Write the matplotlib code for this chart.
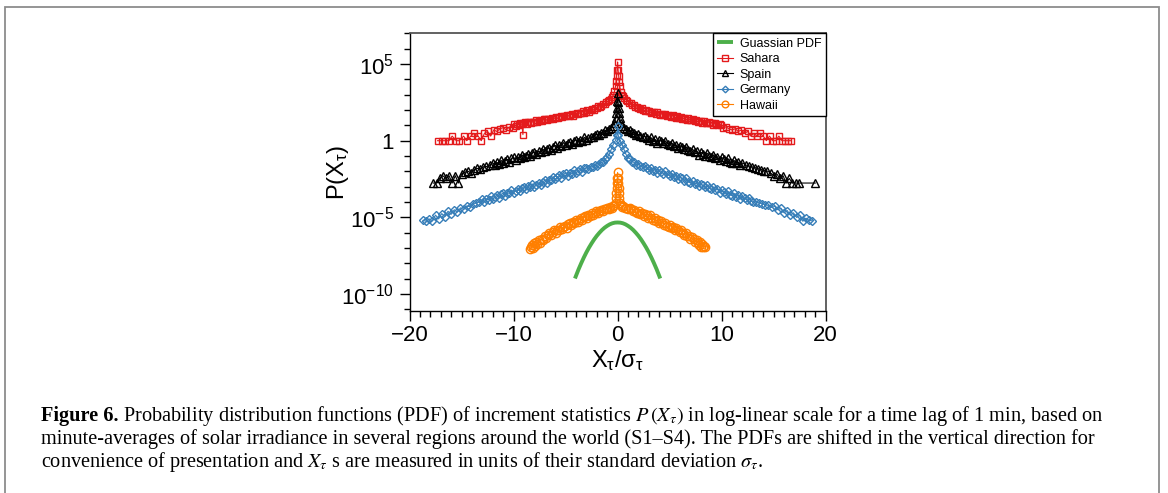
import matplotlib
matplotlib.use("Agg")
import matplotlib.pyplot as plt
from matplotlib.patches import Rectangle
from matplotlib.ticker import FixedLocator, MultipleLocator, NullFormatter
import numpy as np

plt.rcParams['font.family'] = ['Liberation Sans', 'DejaVu Sans']

# (x / sigma, log10 P), PDFs already shifted vertically
sahara = [
    (-17.3, 0.0), (-16.9, 0.0), (-16.6, 0.0), (-16.2, 0.0), (-15.9, 0.30), (-15.5, 0.0),
    (-15.2, 0.0), (-14.8, 0.30), (-14.5, 0.0), (-14.1, 0.30), (-13.8, 0.48), (-13.4, 0.30),
    (-13.1, 0.0), (-12.8, 0.48), (-12.5, 0.60), (-12.2, 0.30), (-11.9, 0.70), (-11.6, 0.60),
    (-11.3, 0.78), (-11.0, 0.85), (-10.7, 0.70), (-10.4, 0.90), (-10.1, 0.85),
    (-9.95, 1.08), (-9.8, 0.98), (-9.65, 1.08), (-9.5, 1.04), (-9.35, 1.15), (-9.2, 1.06),
    (-9.1, 0.40), (-9.05, 1.13), (-8.9, 1.19), (-8.75, 1.10), (-8.6, 1.22), (-8.45, 1.25),
    (-8.3, 1.16), (-8.15, 1.25), (-8.0, 1.22), (-7.85, 1.34), (-7.7, 1.24), (-7.55, 1.30),
    (-7.4, 1.36), (-7.25, 1.27), (-7.1, 1.39), (-6.95, 1.42), (-6.8, 1.33), (-6.65, 1.43),
    (-6.5, 1.40), (-6.35, 1.51), (-6.2, 1.41), (-6.05, 1.48), (-5.9, 1.54), (-5.75, 1.45),
    (-5.6, 1.57), (-5.45, 1.61), (-5.3, 1.52), (-5.15, 1.62), (-5.0, 1.58), (-4.85, 1.70),
    (-4.7, 1.60), (-4.55, 1.67), (-4.4, 1.73), (-4.25, 1.64), (-4.1, 1.76), (-3.95, 1.80),
    (-3.8, 1.72), (-3.65, 1.82), (-3.5, 1.80), (-3.35, 1.92), (-3.2, 1.83), (-3.05, 1.90),
    (-2.9, 1.97), (-2.75, 1.89), (-2.6, 2.02), (-2.45, 2.07), (-2.3, 1.99), (-2.15, 2.11),
    (-2.0, 2.10), (-1.85, 2.24), (-1.7, 2.19), (-1.55, 2.28), (-1.4, 2.37), (-1.25, 2.37),
    (-1.1, 2.50), (-0.95, 2.56), (-0.8, 2.65), (-0.65, 2.75), (-0.5, 2.88), (-0.4, 2.98),
    (-0.3, 3.21), (-0.2, 3.54), (-0.15, 3.86), (-0.1, 4.19), (-0.05, 4.63), (0.0, 5.13),
    (0.05, 4.60), (0.1, 4.20), (0.15, 3.85), (0.2, 3.55), (0.3, 3.20), (0.4, 2.98),
    (0.5, 2.90), (0.65, 2.78), (0.8, 2.68), (0.95, 2.58), (1.1, 2.44), (1.25, 2.47),
    (1.4, 2.32), (1.55, 2.33), (1.7, 2.17), (1.85, 2.21), (2.0, 2.14), (2.15, 2.04),
    (2.3, 2.12), (2.45, 1.99), (2.6, 1.95), (2.75, 2.02), (2.9, 1.91), (3.05, 1.95),
    (3.2, 1.82), (3.35, 1.88), (3.5, 1.84), (3.65, 1.75), (3.8, 1.85), (3.95, 1.72),
    (4.1, 1.69), (4.25, 1.77), (4.4, 1.67), (4.55, 1.72), (4.7, 1.59), (4.85, 1.66),
    (5.0, 1.62), (5.15, 1.55), (5.3, 1.65), (5.45, 1.53), (5.6, 1.50), (5.75, 1.58),
    (5.9, 1.48), (6.05, 1.53), (6.2, 1.40), (6.35, 1.47), (6.5, 1.44), (6.65, 1.36),
    (6.8, 1.46), (6.95, 1.34), (7.1, 1.32), (7.25, 1.40), (7.4, 1.30), (7.55, 1.35),
    (7.7, 1.23), (7.85, 1.30), (8.0, 1.26), (8.15, 1.18), (8.3, 1.29), (8.45, 1.17),
    (8.6, 1.15), (8.75, 1.23), (8.9, 1.13), (9.05, 1.18), (9.2, 1.05), (9.35, 1.13),
    (9.5, 1.09), (9.65, 1.01), (9.8, 1.11), (9.95, 1.00),
    (10.1, 0.85), (10.4, 0.90), (10.7, 0.78), (11.0, 0.70), (11.3, 0.78), (11.6, 0.60),
    (11.9, 0.70), (12.2, 0.48), (12.5, 0.60), (12.8, 0.30), (13.1, 0.48), (13.4, 0.30),
    (13.7, 0.48), (14.0, 0.30), (14.3, 0.0), (14.6, 0.30), (14.9, 0.0), (15.2, 0.0),
    (15.5, 0.30), (15.8, 0.0), (16.1, 0.0), (16.4, 0.0), (16.7, 0.0),
]

spain = [
    (-17.7, -2.76), (-17.4, -2.76), (-17.1, -2.46), (-16.8, -2.28), (-16.5, -2.46), (-16.2, -2.28),
    (-15.9, -2.76), (-15.6, -2.28), (-15.3, -2.76), (-15.0, -2.16), (-14.7, -2.06), (-14.4, -1.98),
    (-14.1, -2.10), (-13.8, -1.90), (-13.5, -1.80), (-13.2, -1.85), (-12.9, -1.70), (-12.6, -1.68),
    (-12.3, -1.60),
    (-12.0, -1.43), (-11.8, -1.60), (-11.6, -1.42), (-11.4, -1.49), (-11.2, -1.28), (-11.0, -1.45),
    (-10.8, -1.32), (-10.6, -1.21), (-10.4, -1.37), (-10.2, -1.16), (-10.0, -1.07), (-9.8, -1.25),
    (-9.6, -1.06), (-9.4, -1.13), (-9.2, -0.91), (-9.0, -1.09), (-8.8, -0.97), (-8.6, -0.86),
    (-8.4, -1.02), (-8.2, -0.81), (-8.0, -0.73), (-7.8, -0.89), (-7.6, -0.70), (-7.4, -0.75),
    (-7.2, -0.53), (-7.0, -0.69), (-6.8, -0.56), (-6.6, -0.45), (-6.4, -0.60), (-6.2, -0.39),
    (-6.0, -0.30), (-5.8, -0.47), (-5.6, -0.28), (-5.4, -0.34), (-5.2, -0.12), (-5.0, -0.29),
    (-4.8, -0.17), (-4.6, -0.06), (-4.4, -0.22), (-4.2, -0.01), (-4.0, 0.07), (-3.8, -0.11),
    (-3.6, 0.07), (-3.4, -0.01), (-3.2, 0.22), (-3.0, 0.05), (-2.8, 0.17), (-2.6, 0.25),
    (-2.4, 0.21), (-2.2, 0.34), (-2.0, 0.42), (-1.8, 0.38), (-1.6, 0.52), (-1.4, 0.53),
    (-1.2, 0.67), (-1.0, 0.64), (-0.8, 0.75), (-0.65, 0.85), (-0.45, 0.98), (-0.3, 1.15),
    (-0.2, 1.48), (-0.15, 1.80), (-0.1, 2.13), (-0.05, 2.56), (0.0, 3.10),
    (0.05, 2.50), (0.1, 2.10), (0.15, 1.78), (0.2, 1.45), (0.3, 1.15), (0.45, 0.97),
    (0.65, 0.84), (0.8, 0.76), (1.0, 0.64), (1.2, 0.67), (1.4, 0.54), (1.6, 0.53),
    (1.8, 0.37), (2.0, 0.41), (2.2, 0.33), (2.4, 0.24), (2.6, 0.28), (2.8, 0.15),
    (3.0, 0.06), (3.2, 0.21), (3.4, 0.00), (3.6, 0.09), (3.8, -0.12), (4.0, 0.05),
    (4.2, -0.04), (4.4, -0.17), (4.6, -0.01), (4.8, -0.21), (5.0, -0.28), (5.2, -0.13),
    (5.4, -0.33), (5.6, -0.26), (5.8, -0.48), (6.0, -0.32), (6.2, -0.42), (6.4, -0.55),
    (6.6, -0.40), (6.8, -0.60), (7.0, -0.68), (7.2, -0.54), (7.4, -0.74), (7.6, -0.68),
    (7.8, -0.90), (8.0, -0.75), (8.2, -0.84), (8.4, -0.97), (8.6, -0.81), (8.8, -1.01),
    (9.0, -1.08), (9.2, -0.92), (9.4, -1.12), (9.6, -1.04), (9.8, -1.26), (10.0, -1.09),
    (10.2, -1.19), (10.4, -1.32), (10.6, -1.16), (10.8, -1.36), (11.0, -1.44), (11.2, -1.29),
    (11.4, -1.48), (11.6, -1.40), (11.8, -1.61), (12.0, -1.45),
    (12.3, -1.58), (12.6, -1.64), (12.9, -1.70), (13.2, -1.75), (13.5, -1.82), (13.8, -1.88),
    (14.1, -1.95), (14.4, -1.98), (14.7, -2.10), (15.0, -2.28), (15.3, -2.16), (15.6, -2.46),
    (15.9, -2.28), (16.2, -2.76), (16.5, -2.46), (16.8, -2.76), (17.1, -2.76), (17.4, -2.76),
    (19.0, -2.76),
]

germany = [
    (-18.7, -5.20), (-18.4, -5.25), (-18.1, -5.10), (-17.8, -5.22), (-17.5, -4.85), (-17.2, -5.10),
    (-16.9, -4.75), (-16.6, -4.95), (-16.3, -4.60), (-16.0, -4.80), (-15.7, -4.50), (-15.4, -4.65),
    (-15.1, -4.38), (-14.8, -4.48), (-14.5, -4.25), (-14.2, -4.30), (-13.9, -4.12), (-13.6, -4.05),
    (-13.3, -4.00),
    (-13.0, -3.82), (-12.8, -3.99), (-12.6, -3.80), (-12.4, -3.85), (-12.2, -3.63), (-12.0, -3.80),
    (-11.8, -3.67), (-11.6, -3.56), (-11.4, -3.71), (-11.2, -3.50), (-11.0, -3.41), (-10.8, -3.58),
    (-10.6, -3.39), (-10.4, -3.44), (-10.2, -3.22), (-10.0, -3.39), (-9.8, -3.26), (-9.6, -3.15),
    (-9.4, -3.30), (-9.2, -3.09), (-9.0, -3.00), (-8.8, -3.17), (-8.6, -2.98), (-8.4, -3.04),
    (-8.2, -2.82), (-8.0, -2.99), (-7.8, -2.86), (-7.6, -2.75), (-7.4, -2.89), (-7.2, -2.68),
    (-7.0, -2.58), (-6.8, -2.74), (-6.6, -2.54), (-6.4, -2.59), (-6.2, -2.36), (-6.0, -2.52),
    (-5.8, -2.38), (-5.6, -2.26), (-5.4, -2.41), (-5.2, -2.20), (-5.0, -2.10), (-4.8, -2.27),
    (-4.6, -2.08), (-4.4, -2.14), (-4.2, -1.92), (-4.0, -2.09), (-3.8, -1.97), (-3.6, -1.87),
    (-3.4, -2.02), (-3.2, -1.81), (-3.0, -1.77), (-2.8, -1.84), (-2.6, -1.71), (-2.4, -1.71),
    (-2.2, -1.57), (-2.0, -1.63), (-1.8, -1.52), (-1.6, -1.42), (-1.4, -1.40), (-1.2, -1.20),
    (-1.0, -1.08), (-0.8, -0.88), (-0.6, -0.55), (-0.45, -0.28), (-0.2, 0.02), (-0.05, 0.40),
    (0.0, 0.93),
    (0.05, 0.38), (0.2, 0.00), (0.45, -0.28), (0.6, -0.55), (0.8, -0.88), (1.0, -1.12),
    (1.2, -1.17), (1.4, -1.37), (1.6, -1.42), (1.8, -1.58), (2.0, -1.54), (2.2, -1.62),
    (2.4, -1.72), (2.6, -1.67), (2.8, -1.80), (3.0, -1.90), (3.2, -1.75), (3.4, -1.95),
    (3.6, -1.88), (3.8, -2.09), (4.0, -1.92), (4.2, -2.02), (4.4, -2.15), (4.6, -2.00),
    (4.8, -2.20), (5.0, -2.28), (5.2, -2.14), (5.4, -2.34), (5.6, -2.27), (5.8, -2.50),
    (6.0, -2.35), (6.2, -2.46), (6.4, -2.60), (6.6, -2.46), (6.8, -2.67), (7.0, -2.76),
    (7.2, -2.62), (7.4, -2.82), (7.6, -2.76), (7.8, -2.98), (8.0, -2.82), (8.2, -2.92),
    (8.4, -3.05), (8.6, -2.90), (8.8, -3.10), (9.0, -3.18), (9.2, -3.03), (9.4, -3.23),
    (9.6, -3.16), (9.8, -3.38), (10.0, -3.22), (10.2, -3.32), (10.4, -3.45), (10.6, -3.31),
    (10.8, -3.51), (11.0, -3.59), (11.2, -3.44), (11.4, -3.64), (11.6, -3.57), (11.8, -3.79),
    (12.0, -3.63), (12.2, -3.73), (12.4, -3.86), (12.6, -3.72), (12.8, -3.92), (13.0, -4.00),
    (13.3, -3.98), (13.6, -4.05), (13.9, -4.10), (14.2, -4.18), (14.5, -4.22), (14.8, -4.35),
    (15.1, -4.28), (15.4, -4.50), (15.7, -4.40), (16.0, -4.70), (16.3, -4.55), (16.6, -4.85),
    (16.9, -4.70), (17.2, -5.00), (17.5, -4.85), (17.8, -5.25), (18.1, -5.05), (18.4, -5.20),
    (18.7, -5.22),
]

hawaii = [
    (-8.4, -7.05), (-8.3, -6.90), (-8.2, -6.80), (-8.1, -7.00), (-8.0, -6.70), (-7.9, -6.88),
    (-7.8, -6.60), (-7.7, -6.75),
    (-7.6, -6.50), (-7.45, -6.64), (-7.3, -6.41), (-7.15, -6.44), (-7.0, -6.18), (-6.85, -6.33),
    (-6.7, -6.17), (-6.55, -6.04), (-6.4, -6.17), (-6.25, -5.95), (-6.1, -5.84), (-5.95, -5.99),
    (-5.8, -5.79), (-5.65, -5.84), (-5.5, -5.61), (-5.35, -5.78), (-5.2, -5.64), (-5.05, -5.53),
    (-4.9, -5.67), (-4.75, -5.46), (-4.6, -5.36), (-4.45, -5.52), (-4.3, -5.33), (-4.15, -5.38),
    (-4.0, -5.15), (-3.85, -5.31), (-3.7, -5.17), (-3.55, -5.06), (-3.4, -5.20), (-3.25, -4.98),
    (-3.1, -4.88), (-2.95, -5.05), (-2.8, -4.85), (-2.65, -4.91), (-2.5, -4.68), (-2.35, -4.85),
    (-2.2, -4.72), (-2.05, -4.60), (-1.9, -4.70), (-1.75, -4.57), (-1.6, -4.50), (-1.45, -4.57),
    (-1.3, -4.47), (-1.15, -4.48), (-1.0, -4.36), (-0.85, -4.45), (-0.7, -4.34), (-0.55, -4.36),
    (-0.4, -4.23), (-0.3, -4.18), (-0.2, -4.05), (-0.15, -3.74), (-0.12, -3.41), (-0.09, -3.09),
    (-0.06, -2.76), (-0.03, -2.44), (0.0, -2.07),
    (0.03, -2.45), (0.06, -2.78), (0.09, -3.10), (0.12, -3.42), (0.15, -3.75), (0.2, -4.05),
    (0.3, -4.18), (0.4, -4.32), (0.55, -4.28), (0.7, -4.39), (0.85, -4.36), (1.0, -4.48),
    (1.15, -4.41), (1.3, -4.48), (1.45, -4.56), (1.6, -4.49), (1.75, -4.62), (1.9, -4.68),
    (2.05, -4.56), (2.2, -4.77), (2.35, -4.70), (2.5, -4.92), (2.65, -4.77), (2.8, -4.87),
    (2.95, -5.01), (3.1, -4.86), (3.25, -5.07), (3.4, -5.16), (3.55, -5.02), (3.7, -5.22),
    (3.85, -5.16), (4.0, -5.39), (4.15, -5.24), (4.3, -5.35), (4.45, -5.48), (4.6, -5.34),
    (4.75, -5.55), (4.9, -5.63), (5.05, -5.49), (5.2, -5.69), (5.35, -5.63), (5.5, -5.85),
    (5.65, -5.70), (5.8, -5.81), (5.95, -5.95), (6.1, -5.82), (6.25, -6.04), (6.4, -6.13),
    (6.55, -6.00), (6.7, -6.22), (6.85, -6.18), (7.0, -6.42), (7.15, -6.30), (7.3, -6.43),
    (7.45, -6.60), (7.6, -6.48),
    (7.7, -6.65), (7.8, -6.80), (7.9, -6.60), (8.0, -6.90), (8.1, -6.75), (8.2, -6.95),
    (8.3, -6.85), (8.4, -6.92),
]

gauss_x = [-4.1, -3.75, -3.5, -3.25, -3.0, -2.75, -2.5, -2.25, -2.0, -1.75, -1.5, -1.25, -1.0,
           -0.75, -0.5, -0.25, 0.0, 0.25, 0.5, 0.75, 1.0, 1.25, 1.5, 1.75, 2.0, 2.25, 2.5,
           2.75, 3.0, 3.25, 3.5, 3.75, 4.1]
gauss_logp = [-8.98, -8.38, -7.99, -7.62, -7.28, -6.97, -6.69, -6.43, -6.20, -6.00, -5.82, -5.67,
              -5.55, -5.45, -5.38, -5.34, -5.33, -5.34, -5.38, -5.45, -5.55, -5.67, -5.82, -6.00,
              -6.20, -6.43, -6.69, -6.97, -7.28, -7.62, -7.99, -8.38, -8.98]

series = [
    ("Sahara", sahara, "#e41a1c", "s", 4.8),
    ("Spain", spain, "black", "^", 5.2),
    ("Germany", germany, "#377eb8", "D", 4.2),
    ("Hawaii", hawaii, "#ff7f00", "o", 6.0),
]

W, H = 1168, 493
fig = plt.figure(figsize=(W / 100, H / 100), dpi=100)
ax = fig.add_axes([409.5 / W, 1 - 311 / H, (825.7 - 409.5) / W, (311 - 33.3) / H])

ax.plot(gauss_x, 10.0 ** np.array(gauss_logp), color="#4daf4a", lw=2.8,
        solid_capstyle="butt", label="Guassian PDF")
for name, pts, col, mk, ms in series:
    xs = [p[0] for p in pts]
    ys = 10.0 ** np.array([p[1] for p in pts])
    ax.plot(xs, ys, color=col, lw=0.8, marker=mk, ms=ms, mfc="none", mec=col,
            mew=1.0, label=name)

ax.set_yscale("log")
ax.set_xlim(-20, 20)
ax.set_ylim(10 ** -11.1, 1e7)
ax.set_xticks([-20, -10, 0, 10, 20])
ax.xaxis.set_minor_locator(MultipleLocator(1))
ax.set_yticks([1e-10, 1e-5, 1, 1e5],
              labels=[r"$\mathdefault{10^{-10}}$", r"$\mathdefault{10^{-5}}$", "1",
                      r"$\mathdefault{10^{5}}$"])
ax.yaxis.set_minor_locator(FixedLocator(10.0 ** np.arange(-11, 8)))
ax.yaxis.set_minor_formatter(NullFormatter())
ax.tick_params(which="major", direction="out", length=7, width=1, labelsize=16)
ax.tick_params(axis="x", which="major", pad=3)
ax.tick_params(axis="y", which="major", pad=4)
ax.tick_params(which="minor", direction="out", length=4, width=1)

for s in ("left", "bottom"):
    ax.spines[s].set_color("black")
    ax.spines[s].set_linewidth(1.0)
for s in ("top", "right"):
    ax.spines[s].set_color("#555555")
    ax.spines[s].set_linewidth(1.3)

ax.set_xlabel(r"$\mathdefault{X_{\tau}/\sigma_{\tau}}$", fontsize=17)
ax.set_ylabel(r"$\mathdefault{P(X_{\tau})}$", fontsize=17)
ax.xaxis.set_label_coords(0.5, -0.135)
ax.yaxis.set_label_coords(-0.14, 0.5)

leg = ax.legend(loc="upper right", borderaxespad=0, fancybox=False, edgecolor="black",
                framealpha=1, fontsize=9, handlelength=1.3, handletextpad=0.5,
                labelspacing=0.28, borderpad=0.35, markerscale=0.8)
leg.get_frame().set_linewidth(1.0)

# grey frame around figure + caption
fig.patches.append(Rectangle((5 / W, -0.1), (1159 - 5) / W, 1 - 7 / H + 0.1,
                             transform=fig.transFigure, fill=False,
                             edgecolor="#8c8c8c", lw=1.3, clip_on=False))

cap_lines = [
    r"Probability distribution functions (PDF) of increment statistics $P\,(X_\tau)$ in log-linear scale for a time lag of 1 min, based on",
    r"minute-averages of solar irradiance in several regions around the world (S1–S4). The PDFs are shifted in the vertical direction for",
    r"convenience of presentation and $X_\tau$ s are measured in units of their standard deviation $\sigma_\tau$.",
]
cap_base = [421, 444, 467]
cap_left = 41
cap_right = 1103
serif = "Liberation Serif"

renderer = fig.canvas.get_renderer()


def place_caption(size):
    texts = []
    t0 = fig.text(cap_left / W, 1 - cap_base[0] / H, "Figure 6.", fontsize=size,
                  fontweight="bold", family=serif, va="baseline")
    bb = t0.get_window_extent(renderer)
    t1 = fig.text((bb.x1 + 0.3 * size) / W, 1 - cap_base[0] / H, cap_lines[0], fontsize=size,
                  family=serif, va="baseline", math_fontfamily="stix")
    texts += [t0, t1]
    for line, yb in zip(cap_lines[1:], cap_base[1:]):
        texts.append(fig.text(cap_left / W, 1 - yb / H, line, fontsize=size, family=serif,
                              va="baseline", math_fontfamily="stix"))
    return texts


trial = place_caption(12)
right = trial[1].get_window_extent(renderer).x1
for t in trial:
    t.remove()
place_caption(12 * (cap_right - cap_left) / (right - cap_left))

fig.savefig("out.png", dpi=100)
